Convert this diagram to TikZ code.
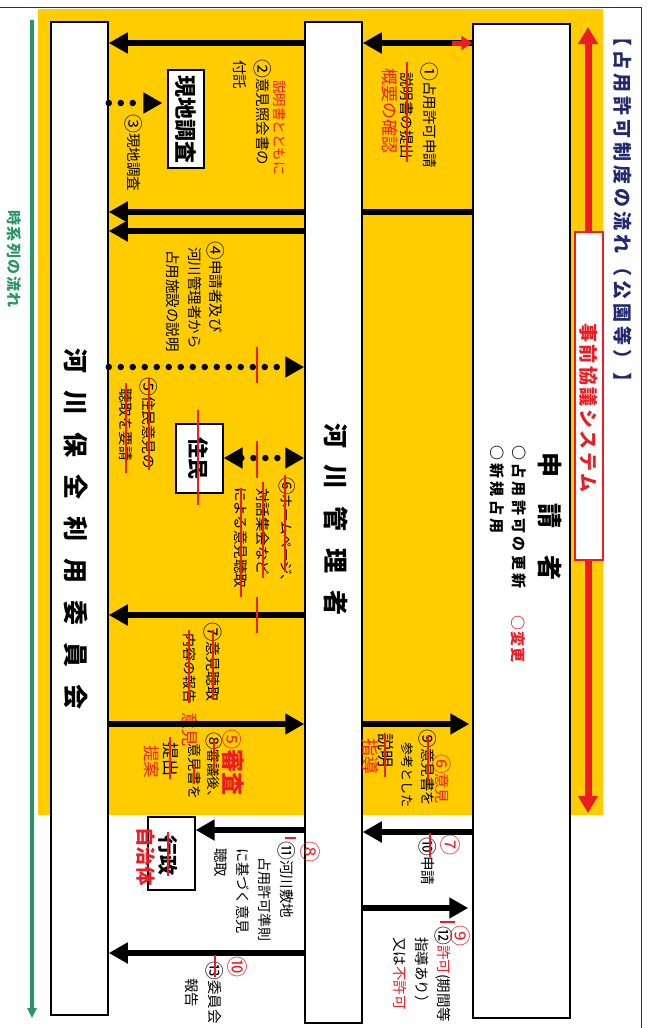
\documentclass[tikz,border=0pt]{standalone}
\usepackage{fontspec}
\setmainfont{Noto Sans CJK JP}
\usepackage{xcolor}
\usepackage{graphicx}
\usetikzlibrary{arrows.meta}
\definecolor{jyellow}{RGB}{255,204,0}
\definecolor{jred}{RGB}{237,28,36}
\definecolor{jnavy}{RGB}{34,40,110}
\definecolor{jgreen}{RGB}{40,150,100}
\newcommand\spreadtext[2]{\def\spreadgap{#1}\spreadloop#2\relax}
\def\spreadloop#1{\ifx\relax#1\else#1\kern\spreadgap\relax\expandafter\spreadloop\fi}
% circled numbers of the CJK font are small
\newcommand\cn[1]{\raisebox{-0.12em}{\scalebox{1.3}{#1}}}

\begin{document}
\begin{tikzpicture}[x=1pt,y=-1pt,
  lane/.style={draw,line width=1.5pt,fill=white,inner sep=0pt},
  tag/.style={draw,line width=1.2pt,fill=white,inner sep=0pt},
  txt/.style={rotate=-90,anchor=west,inner sep=0pt,font=\fontsize{14.5}{16}\selectfont},
  rtxt/.style={txt,text=jred},
  num/.style={txt,text=jred,font=\fontsize{21}{23}\selectfont},
  big/.style={txt,font=\fontsize{25}{28}\selectfont\bfseries},
  flow/.style={line width=6.5pt,-{Triangle[length=19pt,width=20pt]}},
  dotflow/.style={flow,line cap=round,dash pattern=on 0pt off 12pt},
  cut/.style={jred,line width=1.2pt}]

  \useasboundingbox (0,0) rectangle (650,1028);
  \clip (0,0) rectangle (650,1028);

  % background and frame
  \fill[jyellow] (38,9) rectangle (603,815);
  \draw[line width=1.5pt,black!80] (0,7.5) -- (641.5,7.5) -- (641.5,1030);

  % lanes
  \node[lane,minimum width=57pt,minimum height=993pt] (hk) at (79.5,518.5) {};
  \node[lane,minimum width=57pt,minimum height=1001pt] (km) at (333.5,522.5) {};
  \node[lane,minimum width=97pt,minimum height=994pt] (sq) at (521.5,521) {};

  \node[big] (hkt) at (76,348) {\spreadtext{17pt}{河川保全利用委員会}};
  \node[big] (kmt) at (336,423) {\spreadtext{16.75pt}{河川管理者}};
  \node[big] (sqt) at (550,452) {\spreadtext{26.5pt}{申請者}};
  \node[txt,font=\fontsize{15}{17}\selectfont\bfseries] (sq1) at (519,445) {\spreadtext{3.3pt}{○占用許可の更新}};
  \node[txt,font=\fontsize{15}{17}\selectfont\bfseries] (sq2) at (497,445) {\spreadtext{3.3pt}{○新規占用}};
  \node[txt,text=jred,font=\fontsize{15}{17}\selectfont\bfseries] (sq3) at (518,615) {\spreadtext{1pt}{○変更}};

  % title, time axis
  \node[txt,text=jnavy,font=\fontsize{19}{22}\selectfont\bfseries] (ttl) at (623,27) {\spreadtext{4pt}{【占用許可制度の流れ（公園等）】}};
  \coordinate (ga) at (32,20);
  \coordinate (gb) at (32,1018);
  \draw[jgreen,line width=3.5pt,-{Triangle[length=10pt,width=9pt]}] (ga) -- (gb);
  \node[txt,text=jgreen,font=\fontsize{15}{17}\selectfont\bfseries] (gt) at (14,210) {\spreadtext{1.5pt}{時系列の流れ}};

  % pre-consultation system
  \coordinate (pa) at (588,27);
  \coordinate (pb) at (588,813);
  \draw[jred,line width=7pt,arrows={Triangle[length=17pt,width=19pt]-Triangle[length=17pt,width=19pt]}] (pa) -- (pb);
  \node[draw=jred,line width=1.2pt,fill=white,minimum width=28pt,minimum height=328pt,inner sep=0pt] (jz) at (589,396) {};
  \node[txt,text=jred,font=\fontsize{19}{22}\selectfont\bfseries] (jzt) at (589,323) {\spreadtext{2.5pt}{事前協議システム}};

  % step 1
  \coordinate (r1) at (0,43);
  \draw[flow] (sq.west |- r1) -- (km.east |- r1);
  \draw[flow] (km.west |- r1) -- (hk.east |- r1);
  \coordinate (rt) at (452,43);
  \draw[jred,line width=5pt,-{Triangle[length=11pt,width=14pt]}] (rt) -- (sq.west |- r1);
  \node[txt] (a1) at (430,62) {\cn{①}占用許可申請};
  \node[txt] (a2) at (407,72) {説明書の提出};
  \node[rtxt,font=\fontsize{17}{19}\selectfont] (a3) at (390,68) {概要の確認};
  \draw[cut] (407,62) -- (407,162);

  % step 2, 3
  \node[rtxt,font=\fontsize{13.5}{15}\selectfont] (b0) at (280,80) {説明書とともに};
  \node[txt] (b1) at (263,59) {\cn{②}意見照会書の};
  \node[txt] (b2) at (240,60) {付託};
  \node[tag,minimum width=36pt,minimum height=98pt] (gc) at (186,119) {};
  \node[txt,font=\fontsize{22}{24}\selectfont\bfseries] (gct) at (186,75) {現地調査};
  \coordinate (r3) at (0,103);
  \draw[dotflow,shorten >=5pt] (hk.east |- r3) -- (gc.west |- r3);
  \node[txt] (c1) at (134,114) {\cn{③}現地調査};

  % step 4
  \coordinate (r2) at (0,212);
  \coordinate (r2b) at (0,231);
  \draw[line width=6.5pt] (sq.west |- r2) -- (km.east |- r2);
  \draw[flow] (km.west |- r2) -- (hk.east |- r2);
  \draw[flow] (km.west |- r2b) -- (hk.east |- r2b);
  \node[txt] (d1) at (216,241) {\cn{④}申請者及び};
  \node[txt] (d2) at (195,247) {河川管理者から};
  \node[txt] (d3) at (173,250) {占用施設の説明};

  % step 5, 6 (residents)
  \coordinate (r5) at (0,367);
  \draw[dotflow] (hk.east |- r5) -- (km.west |- r5);
  \draw[cut] (257,347) -- (257,383);
  \node[txt] (e1) at (149,377) {\cn{⑤}住民意見の};
  \node[txt] (e2) at (126,388) {聴取を要請};
  \draw[cut] (149,378) -- (149,470);
  \draw[cut] (126,383) -- (126,473);
  \node[tag,minimum width=47pt,minimum height=69pt] (jm) at (199.5,458.5) {};
  \node[txt,font=\fontsize{21}{24}\selectfont\bfseries] (jmt) at (198,437) {住民};
  \draw[cut] (198,410) -- (198,505);
  \coordinate (r6) at (0,458);
  \draw[dotflow,arrows={Triangle[length=19pt,width=20pt]-Triangle[length=19pt,width=20pt]}] (jm.east |- r6) -- (km.west |- r6);
  \draw[cut] (257,441) -- (257,478);
  \node[txt,font=\fontsize{13.5}{15}\selectfont] (f1) at (287,477) {\cn{⑥}ホームページ、};
  \node[txt] (f2) at (263,488) {対話集会など};
  \node[txt] (f3) at (241,487) {による意見聴取};
  \draw[cut] (285,475) -- (285,572);
  \draw[cut] (263,482) -- (263,578);
  \draw[cut] (241,488) -- (241,597);

  % step 7
  \coordinate (r7) at (0,615);
  \draw[flow] (km.west |- r7) -- (hk.east |- r7);
  \draw[cut] (257,597) -- (257,633);
  \node[txt,font=\fontsize{15}{17}\selectfont] (g1) at (213,622) {\cn{⑦}意見聴取};
  \node[txt,font=\fontsize{14}{16}\selectfont] (g2) at (190,633) {内容の報告};
  \node[rtxt,font=\fontsize{17}{19}\selectfont] (g3) at (190,712) {意見};
  \draw[cut] (213,630) -- (213,700);
  \draw[cut] (189,630) -- (189,703);

  % step 8
  \coordinate (r8) at (0,724);
  \draw[flow] (hk.east |- r8) -- (km.west |- r8);
  \draw[flow,shorten >=3pt] (km.east |- r8) -- (sq.west |- r8);
  \node[rtxt,font=\fontsize{23}{25}\selectfont\bfseries] (h1) at (233,729) {{\fontsize{20}{22}\selectfont\mdseries ⑤}審査};
  \node[txt,font=\fontsize{13.5}{15}\selectfont] (h2) at (214,732) {\cn{⑧}審議後、};
  \node[txt,font=\fontsize{14}{16}\selectfont] (h3) at (195,743) {意見書を};
  \node[txt,font=\fontsize{17}{19}\selectfont] (h4) at (171,742) {提出};
  \node[rtxt,font=\fontsize{16.5}{18}\selectfont] (h5) at (152,745) {提案};
  \draw[cut] (214,740) -- (214,771);
  \draw[cut] (194,764) -- (194,784);
  \draw[cut] (170,737) -- (170,779);
  \node[rtxt,font=\fontsize{15}{17}\selectfont] (i1) at (442,754) {\cn{⑥}意見};
  \node[txt] (i2) at (428,729) {\cn{⑨}意見書を};
  \node[txt,font=\fontsize{13}{15}\selectfont] (i3) at (407,742) {参考とした};
  \node[txt,font=\fontsize{17}{19}\selectfont] (i4) at (386,733) {説明};
  \node[rtxt,font=\fontsize{18}{20}\selectfont] (i5) at (370,738) {指導};
  \draw[cut] (428,735) -- (428,782);
  \draw[cut] (385,733) -- (385,777);

  % after consultation
  \coordinate (r10) at (0,832);
  \draw[flow] (sq.west |- r10) -- (km.east |- r10);
  \node[num] (j1) at (450,834) {⑦};
  \node[txt] (j2) at (428,837) {\cn{⑩}申請};
  \draw[cut] (430,833) -- (430,857);

  \coordinate (r9) at (0,908);
  \draw[flow,shorten >=4pt] (km.east |- r9) -- (sq.west |- r9);
  \node[num] (k0) at (460,925) {⑨};
  \node[txt] (k1) at (444,926) {\cn{⑫}{\color{jred}許可}(期間等};
  \node[txt] (k2) at (422,937) {指導あり）};
  \node[txt] (k3) at (400,937) {又は{\color{jred}不許可}};
  \draw[cut] (440,922) -- (455,922);

  \node[tag,minimum width=47pt,minimum height=73pt] (gs) at (171.5,853.5) {};
  \node[txt,font=\fontsize{20}{22}\selectfont\bfseries] (gst) at (168,835) {行政};
  \draw[cut] (168,832) -- (168,876);
  \node[rtxt,font=\fontsize{19.5}{22}\selectfont\bfseries] (gsr) at (146,827) {自治体};
  \coordinate (r11) at (0,830);
  \draw[flow] (km.west |- r11) -- (gs.east |- r11);
  \node[num] (l0) at (310,841) {⑧};
  \node[txt] (l1) at (287,841) {\cn{⑪}河川敷地};
  \node[txt,font=\fontsize{14}{16}\selectfont] (l2) at (265,857) {占用許可準則};
  \node[txt,font=\fontsize{14.2}{16}\selectfont] (l3) at (243,848) {に基づく意見};
  \node[txt] (l4) at (221,848) {聴取};
  \draw[cut] (285,838) -- (296,838);

  \coordinate (r13) at (0,953);
  \draw[flow] (km.west |- r13) -- (hk.east |- r13);
  \node[num] (m0) at (237,956) {⑩};
  \node[txt] (m1) at (215,961) {\cn{⑬}委員会};
  \node[txt] (m2) at (192,978) {報告};
  \draw[cut] (215,955) -- (215,977);

\end{tikzpicture}
\end{document}
